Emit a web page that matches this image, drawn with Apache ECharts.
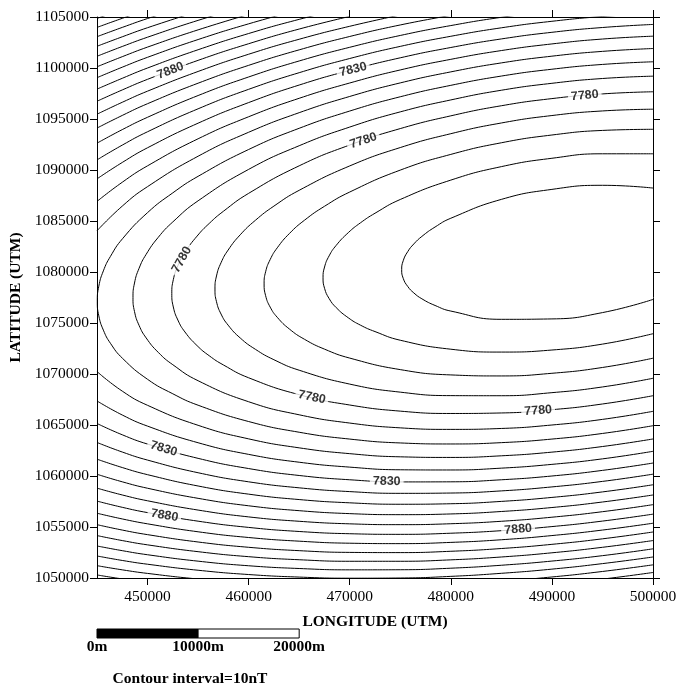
<!DOCTYPE html>
<html>
<head>
<meta charset="utf-8">
<script src="https://cdn.jsdelivr.net/npm/echarts@6/dist/echarts.min.js"></script>
<style>
html,body{margin:0;padding:0;background:#fff;}
#main{width:677px;height:689px;}
</style>
</head>
<body>
<div id="main"></div>
<script>
// ---- axis ticks ----
const xTicks = [450000, 460000, 470000, 480000, 490000, 500000];
const yTicks = [1050000,1055000,1060000,1065000,1070000,1075000,1080000,1085000,1090000,1095000,1100000,1105000];

// ---- closed (C-shaped) contours, [longitude, latitude] ----
const c7740 = [[500000,1088230],[495000,1088500],[490000,1088100],[485000,1087120],[480000,1085270],[478440,1084410],[477140,1083490],[476340,1082750],[475740,1082000],[475290,1081100],[475140,1080230],[475290,1079380],[475740,1078580],[476340,1077950],[477140,1077370],[478440,1076720],[480000,1076170],[485000,1075360],[490000,1075400],[495000,1076020],[500000,1077310]];
const c7750 = [[500000,1091590],[495000,1091590],[490000,1091150],[485000,1090330],[480000,1089010],[475000,1087110],[472500,1085760],[471060,1084820],[469860,1083860],[468660,1082610],[467960,1081580],[467510,1080490],[467360,1079430],[467510,1078400],[467960,1077400],[468660,1076510],[469860,1075510],[471060,1074790],[472500,1074160],[475000,1073310],[480000,1072430],[485000,1072150],[490000,1072350],[495000,1072930],[500000,1073950]];
const c7760 = [[500000,1093990],[495000,1093880],[490000,1093430],[485000,1092670],[480000,1091530],[475000,1089990],[470000,1087840],[467500,1086440],[465530,1085080],[464030,1083770],[462830,1082370],[462130,1081220],[461680,1080020],[461530,1078830],[461680,1077680],[462130,1076560],[462830,1075560],[464030,1074410],[465530,1073400],[467500,1072440],[470000,1071560],[475000,1070430],[480000,1069910],[485000,1069810],[490000,1070070],[495000,1070640],[500000,1071550]];
const c7770 = [[500000,1095960],[495000,1095790],[490000,1095340],[485000,1094610],[480000,1093560],[475000,1092200],[470000,1090400],[465000,1088010],[462500,1086460],[460670,1085070],[459170,1083650],[457970,1082150],[457270,1080910],[456820,1079610],[456670,1078330],[456820,1077090],[457270,1075880],[457970,1074790],[459170,1073530],[460670,1072420],[462500,1071400],[465000,1070370],[470000,1069010],[475000,1068220],[480000,1067880],[485000,1067870],[490000,1068170],[495000,1068730],[500000,1069580]];
const c7780 = [[500000,1097670],[495000,1097460],[490000,1097000],[485000,1096300],[480000,1095310],[475000,1094060],[470000,1092450],[465000,1090410],[460000,1087710],[457500,1085950],[456100,1084760],[454900,1083520],[453700,1081930],[453000,1080620],[452550,1079250],[452400,1077900],[452550,1076570],[453000,1075290],[453700,1074120],[454900,1072780],[456100,1071790],[457500,1070890],[460000,1069630],[465000,1067970],[470000,1066960],[475000,1066360],[480000,1066130],[485000,1066180],[490000,1066500],[495000,1067060],[500000,1067870]];
const c7790 = [[500000,1099200],[495000,1098970],[490000,1098500],[485000,1097820],[480000,1096870],[475000,1095700],[470000,1094210],[465000,1092380],[460000,1090060],[455000,1086980],[452500,1084910],[451060,1083400],[449860,1081730],[449160,1080360],[448710,1078920],[448560,1077500],[448710,1076120],[449160,1074770],[449860,1073540],[451060,1072120],[452500,1070910],[455000,1069340],[460000,1067280],[465000,1066000],[470000,1065190],[475000,1064720],[480000,1064570],[485000,1064660],[490000,1065000],[495000,1065550],[500000,1066340]];
const c7800 = [[500000,1100610],[495000,1100350],[490000,1099880],[485000,1099210],[480000,1098300],[475000,1097180],[470000,1095780],[465000,1094090],[460000,1092010],[455000,1089380],[452500,1087760],[450000,1085820],[447530,1083270],[446330,1081530],[445630,1080110],[445180,1078610],[445030,1077140],[445180,1075700],[445630,1074300],[446330,1073010],[447530,1071530],[450000,1069480],[452500,1068060],[455000,1066940],[460000,1065340],[465000,1064290],[470000,1063620],[475000,1063240],[480000,1063140],[485000,1063270],[490000,1063620],[495000,1064170],[500000,1064930]];

// ---- open contours: latitude at these longitudes ----
const lonCols = [445000,447500,450000,455000,460000,465000,470000,475000,480000,485000,490000,495000,500000];
// upper branches (7810 .. 7960)
const up7810 = [1084040,1086460,1088370,1091350,1093700,1095620,1097210,1098540,1099620,1100500,1101160,1101630,1101910];
const up7820 = [1086920,1088800,1090410,1093060,1095220,1097030,1098530,1099810,1100850,1101710,1102360,1102840,1103120];
const up7830 = [1089130,1090740,1092180,1094590,1096610,1098330,1099770,1101000,1102010,1102850,1103500,1103970,1104270];
const up7840 = [1090990,1092440,1093750,1096000,1097910,1099540,1100930,1102120,1103110,1103940,1104580,1105050,1105360];
const up7850 = [1092630,1093960,1095170,1097300,1099120,1100690,1102030,1103190,1104160,1104970,1105600];
const up7860 = [1094110,1095350,1096500,1098510,1100260,1101780,1103090,1104220,1105160];
const up7870 = [1095470,1096640,1097730,1099660,1101350,1102820,1104090,1105200];
const up7880 = [1096740,1097850,1098890,1100750,1102380,1103820,1105060];
const up7890 = [1097930,1098990,1100000,1101790,1103380,1104770,1105990];
const up7900 = [1099050,1100080,1101050,1102790,1104330,1105700];
const up7910 = [1100120,1101110,1102050,1103740,1105250];
const up7920 = [1101150,1102110,1103020,1104670,1106140];
const up7930 = [1102130,1103060,1103950,1105560];
const up7940 = [1103070,1103980,1104850,1106420];
const up7950 = [1103980,1104870,1105720];
const up7960 = [1104860,1105730];
// lower branches (7810 .. 7950)
const lo7810 = [1070240,1068320,1066930,1064970,1063640,1062760,1062190,1061880,1061820,1061980,1062340,1062890,1063630];
const lo7820 = [1067360,1065980,1064890,1063260,1062120,1061350,1060870,1060610,1060590,1060770,1061140,1061680,1062420];
const lo7830 = [1065150,1064040,1063130,1061730,1060730,1060050,1059630,1059420,1059430,1059630,1060000,1060550,1061270];
const lo7840 = [1063290,1062350,1061560,1060320,1059430,1058840,1058470,1058300,1058330,1058540,1058930,1059470,1060180];
const lo7850 = [1061650,1060830,1060130,1059020,1058220,1057690,1057370,1057230,1057280,1057510,1057900,1058440,1059140];
const lo7860 = [1060170,1059430,1058800,1057810,1057080,1056600,1056310,1056210,1056280,1056520,1056910,1057450,1058140];
const lo7870 = [1058810,1058140,1057570,1056660,1055990,1055560,1055310,1055230,1055320,1055560,1055960,1056500,1057190];
const lo7880 = [1057540,1056930,1056410,1055570,1054960,1054560,1054340,1054280,1054390,1054640,1055040,1055580,1056260];
const lo7890 = [1056350,1055790,1055310,1054530,1053970,1053610,1053410,1053370,1053490,1053750,1054160,1054700,1055370];
const lo7900 = [1055230,1054700,1054250,1053530,1053010,1052680,1052510,1052490,1052620,1052890,1053300,1053840,1054510];
const lo7910 = [1054160,1053670,1053250,1052580,1052090,1051790,1051640,1051640,1051780,1052060,1052470,1053010,1053670];
const lo7920 = [1053140,1052680,1052280,1051650,1051200,1050930,1050800,1050810,1050960,1051250,1051660,1052190,1052860];
const lo7930 = [1052160,1051720,1051350,1050760,1050340,1050090,1049980,1050000,1050160,1050460,1050870,1051410,1052060];
const lo7940 = [1051210,1050800,1050450,1049900,1049510,1049280,1049180,1049220,1049390,1049690,1050100,1050640,1051290];
const lo7950 = [1050300,1049910,1049590,1049060,1048690,1048480,1048400,1048450,1048630,1048930,1049350,1049890,1050540];

// ---- contour labels ----
const labelLevel = [7880, 7830, 7780, 7780, 7780, 7780, 7780, 7830, 7830, 7880, 7880];
const labelLon   = [452260, 470340, 493250, 471350, 453390, 466260, 488640, 451600, 473660, 451670, 486660];
const labelLat   = [1099730, 1099850, 1097300, 1092880, 1081210, 1067720, 1066410, 1062680, 1059480, 1056130, 1054770];
const labelAngle = [21, 14, 5, 18, 61, -11.5, 4, -17, -1, -10, 4.5];

// ---- scale bar (metres) ----
const scaleStops = [0, 10000, 20000];
const scaleNames = ['0m', '10000m', '20000m'];

const closedCurves = [c7740, c7750, c7760, c7770, c7780, c7790, c7800];
const upperBranches = [up7810, up7820, up7830, up7840, up7850, up7860, up7870, up7880, up7890, up7900, up7910, up7920, up7930, up7940, up7950, up7960];
const lowerBranches = [lo7810, lo7820, lo7830, lo7840, lo7850, lo7860, lo7870, lo7880, lo7890, lo7900, lo7910, lo7920, lo7930, lo7940, lo7950];

function toPairs(lats) { return lats.map((lat, i) => [lonCols[i], lat]); }
function contourSeries(data) {
  return {
    type: 'line', data: data, smooth: 0.5, symbol: 'none', showSymbol: false,
    lineStyle: { color: '#000', width: 1 }, silent: true, clip: true,
    xAxisIndex: 0, yAxisIndex: 0, z: 2
  };
}

const series = [];
closedCurves.forEach(c => series.push(contourSeries(c)));
upperBranches.forEach(b => series.push(contourSeries(toPairs(b))));
lowerBranches.forEach(b => series.push(contourSeries(toPairs(b))));

series.push({
  type: 'scatter', xAxisIndex: 0, yAxisIndex: 0, z: 10, silent: true,
  symbolSize: 1, itemStyle: { color: 'rgba(0,0,0,0)' },
  data: labelLon.map((lon, i) => ({
    value: [lon, labelLat[i], labelLevel[i]],
    label: { rotate: labelAngle[i] }
  })),
  label: {
    show: true, position: 'inside',
    formatter: p => String(p.value[2]),
    fontFamily: 'Liberation Sans', fontSize: 12.5, fontWeight: 'bold', color: '#000',
    backgroundColor: '#fff', padding: [0, 3], lineHeight: 9
  }
});

const serif = 'Liberation Serif';
const plain = v => String(v);
const chart = echarts.init(document.getElementById('main'), null, { renderer: 'canvas' });
const option = {
  animation: false,
  backgroundColor: '#fff',
  grid: { left: 97, right: 24, top: 17, bottom: 111, containLabel: false, outerBoundsMode: 'none' },
  xAxis: [
    {
      type: 'value', position: 'bottom', min: 445000, max: 500000, interval: 5000,
      axisLine: { show: true, lineStyle: { color: '#000', width: 1 } },
      axisTick: { show: true, inside: false, length: 7, customValues: xTicks, lineStyle: { color: '#000' } },
      axisLabel: { show: true, customValues: xTicks, formatter: plain, margin: 11, fontFamily: serif, fontSize: 15.5, color: '#000' },
      splitLine: { show: false },
      name: 'LONGITUDE (UTM)', nameLocation: 'middle', nameGap: 36,
      nameTextStyle: { fontFamily: serif, fontSize: 15.5, fontWeight: 'bold', color: '#000' }
    },
    {
      type: 'value', position: 'top', min: 445000, max: 500000, interval: 5000,
      axisLine: { show: true, lineStyle: { color: '#000', width: 1 } },
      axisTick: { show: true, inside: false, length: 7, customValues: xTicks, lineStyle: { color: '#000' } },
      axisLabel: { show: false },
      splitLine: { show: false }
    }
  ],
  yAxis: [
    {
      type: 'value', position: 'left', min: 1050000, max: 1105000, interval: 5000,
      axisLine: { show: true, lineStyle: { color: '#000', width: 1 } },
      axisTick: { show: true, inside: false, length: 7, customValues: yTicks, lineStyle: { color: '#000' } },
      axisLabel: { show: true, customValues: yTicks, formatter: plain, margin: 8, fontFamily: serif, fontSize: 15.5, color: '#000' },
      splitLine: { show: false },
      name: 'LATITUDE (UTM)', nameLocation: 'middle', nameGap: 71, nameRotate: 90,
      nameTextStyle: { fontFamily: serif, fontSize: 15.5, fontWeight: 'bold', color: '#000' }
    },
    {
      type: 'value', position: 'right', min: 1050000, max: 1105000, interval: 5000,
      axisLine: { show: true, lineStyle: { color: '#000', width: 1 } },
      axisTick: { show: true, inside: false, length: 7, customValues: yTicks, lineStyle: { color: '#000' } },
      axisLabel: { show: false },
      splitLine: { show: false }
    }
  ],
  series: series
};
chart.setOption(option);

// scale bar drawn through the x-axis scale
const xMin = 445000;
const px = scaleStops.map(s => chart.convertToPixel({ xAxisIndex: 0 }, xMin + s));
const barTop = 629, barH = 9;
const graphics = [
  { type: 'rect', shape: { x: px[0], y: barTop, width: px[1] - px[0], height: barH }, style: { fill: '#000', stroke: '#000', lineWidth: 1 } },
  { type: 'rect', shape: { x: px[1], y: barTop, width: px[2] - px[1], height: barH }, style: { fill: '#fff', stroke: '#000', lineWidth: 1 } }
];
scaleNames.forEach((t, i) => {
  graphics.push({ type: 'text', x: px[i], y: 647, style: { text: t, fontFamily: serif, fontSize: 15.5, fontWeight: 'bold', fill: '#000', align: 'center', verticalAlign: 'middle' } });
});
graphics.push({ type: 'text', x: 190, y: 679, style: { text: 'Contour interval=10nT', fontFamily: serif, fontSize: 15.5, fontWeight: 'bold', fill: '#000', align: 'center', verticalAlign: 'middle' } });
chart.setOption({ graphic: graphics });
</script>
</body>
</html>
